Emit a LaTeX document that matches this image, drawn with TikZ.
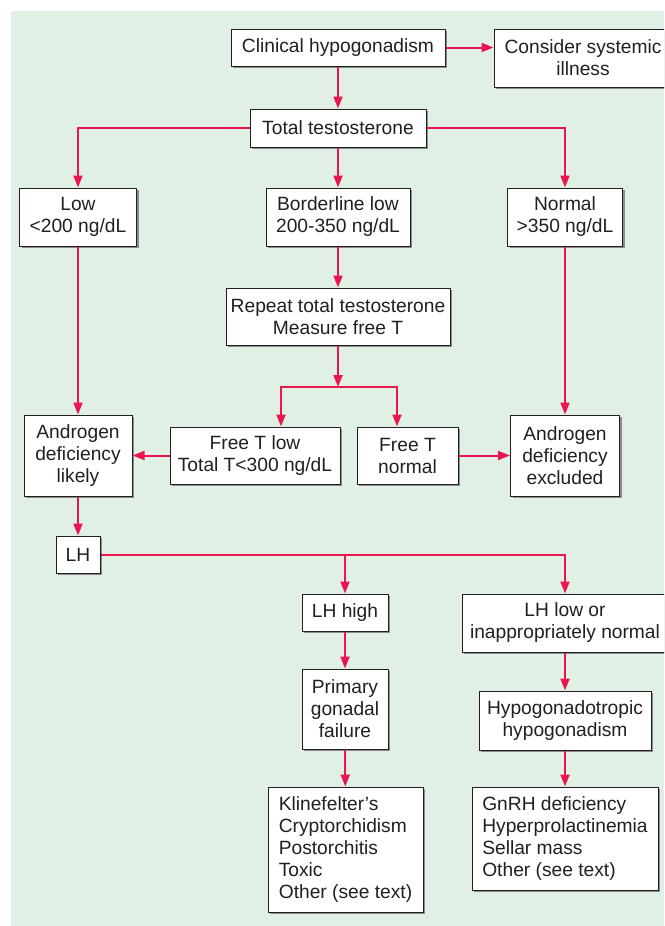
\documentclass[tikz,border=0pt]{standalone}
\usepackage{fontspec}
\setmainfont{Liberation Sans}
\usepackage{xcolor}
\usepackage{tikz}
\usetikzlibrary{arrows.meta,shadows}

\definecolor{sfondo}{RGB}{225,240,229}
\definecolor{freccia}{RGB}{233,22,82}
\definecolor{testo}{RGB}{35,31,32}

\begin{document}
\begin{tikzpicture}[x=1pt,y=-1pt,
    box/.style={draw=testo,line width=1pt,fill=white,text=testo,inner sep=0pt,
        align=center,font=\fontsize{19.2}{22}\selectfont,
        drop shadow={shadow xshift=2pt,shadow yshift=-2pt,fill=black!45,opacity=1}},
    lista/.style={box,align=left},
    flusso/.style={draw=freccia,line width=2pt,-{Triangle[length=12pt,width=9pt]}}]

        % Sfondo
        \useasboundingbox (0,0) rectangle (664,926);
        \clip (0,0) rectangle (664,926);
        \fill[sfondo] (10.5,10.5) rectangle (664,926);

        % Riga alta
        \node[box,minimum width=214pt,minimum height=37pt] (clin) at (338,47.5) {Clinical hypogonadism};
        \node[box,minimum width=178pt,minimum height=58pt] (consider) at (583,58) {Consider systemic\\illness};
        \node[box,minimum width=176pt,minimum height=38pt] (total) at (338,128) {Total testosterone};

        % Tre livelli
        \node[box,minimum width=117pt,minimum height=58pt] (low) at (78,217) {Low\\<200 ng/dL};
        \node[box,minimum width=144pt,minimum height=58pt] (border) at (338,217) {Borderline low\\200-350 ng/dL};
        \node[box,minimum width=115pt,minimum height=58pt] (normal) at (565,217) {Normal\\>350 ng/dL};
        \node[box,minimum width=224pt,minimum height=57pt] (repeat) at (338,316.5) {Repeat total testosterone\\Measure free T};

        % Esito
        \node[box,minimum width=108pt,minimum height=81pt] (likely) at (78,455.5) {Androgen\\deficiency\\likely};
        \node[box,minimum width=170pt,minimum height=57pt] (ftlow) at (255,455.5) {Free T low\\Total T<300 ng/dL};
        \node[box,minimum width=101pt,minimum height=57pt] (ftnorm) at (407.5,455.5) {Free T\\normal};
        \node[box,minimum width=109pt,minimum height=81pt] (excluded) at (565,455.5) {Androgen\\deficiency\\excluded};

        % LH
        \node[box,minimum width=44pt,minimum height=37pt] (lh) at (78,554.5) {LH};
        \node[box,minimum width=86pt,minimum height=37pt] (lhhigh) at (345,612.5) {LH high};
        \node[box,minimum width=206pt,minimum height=58pt] (lhlow) at (565,623) {LH low or\\inappropriately normal};
        \node[box,minimum width=86pt,minimum height=80pt] (primary) at (345,709) {Primary\\gonadal\\failure};
        \node[box,minimum width=172pt,minimum height=59pt] (hypo) at (565,720.5) {Hypogonadotropic\\hypogonadism};
        \node[lista,minimum width=155pt,minimum height=125pt] (klin) at (345.5,849.5) {Klinefelter’s\\Cryptorchidism\\Postorchitis\\Toxic\\Other (see text)};
        \node[lista,minimum width=186pt,minimum height=103pt] (gnrh) at (565,838.5) {GnRH deficiency\\Hyperprolactinemia\\Sellar mass\\Other (see text)};

        % Frecce
        \coordinate (split) at (338,387);
        \draw[flusso] (clin.east) -- (clin.east -| consider.west);
        \draw[flusso] (clin) -- (total);
        \draw[flusso] (total.west) -| (low.north);
        \draw[flusso] (total.east) -| (normal.north);
        \draw[flusso] (total) -- (border);
        \draw[flusso] (border) -- (repeat);
        \draw[flusso] (repeat) -- (split);
        \draw[flusso] (split) -| ([xshift=26pt]ftlow.north);
        \draw[flusso] (split) -| ([xshift=-10.5pt]ftnorm.north);
        \draw[flusso] (low) -- (likely);
        \draw[flusso] (normal) -- (excluded);
        \draw[flusso] (ftlow) -- (likely);
        \draw[flusso] (ftnorm) -- (excluded);
        \draw[flusso] (likely) -- (lh);
        \draw[flusso] (lh.east) -| (lhhigh.north);
        \draw[flusso] (lh.east) -| (lhlow.north);
        \draw[flusso] (lhhigh) -- (primary);
        \draw[flusso] (primary) -- (klin);
        \draw[flusso] (lhlow) -- (hypo);
        \draw[flusso] (hypo) -- (gnrh);
    \end{tikzpicture}
\end{document}
